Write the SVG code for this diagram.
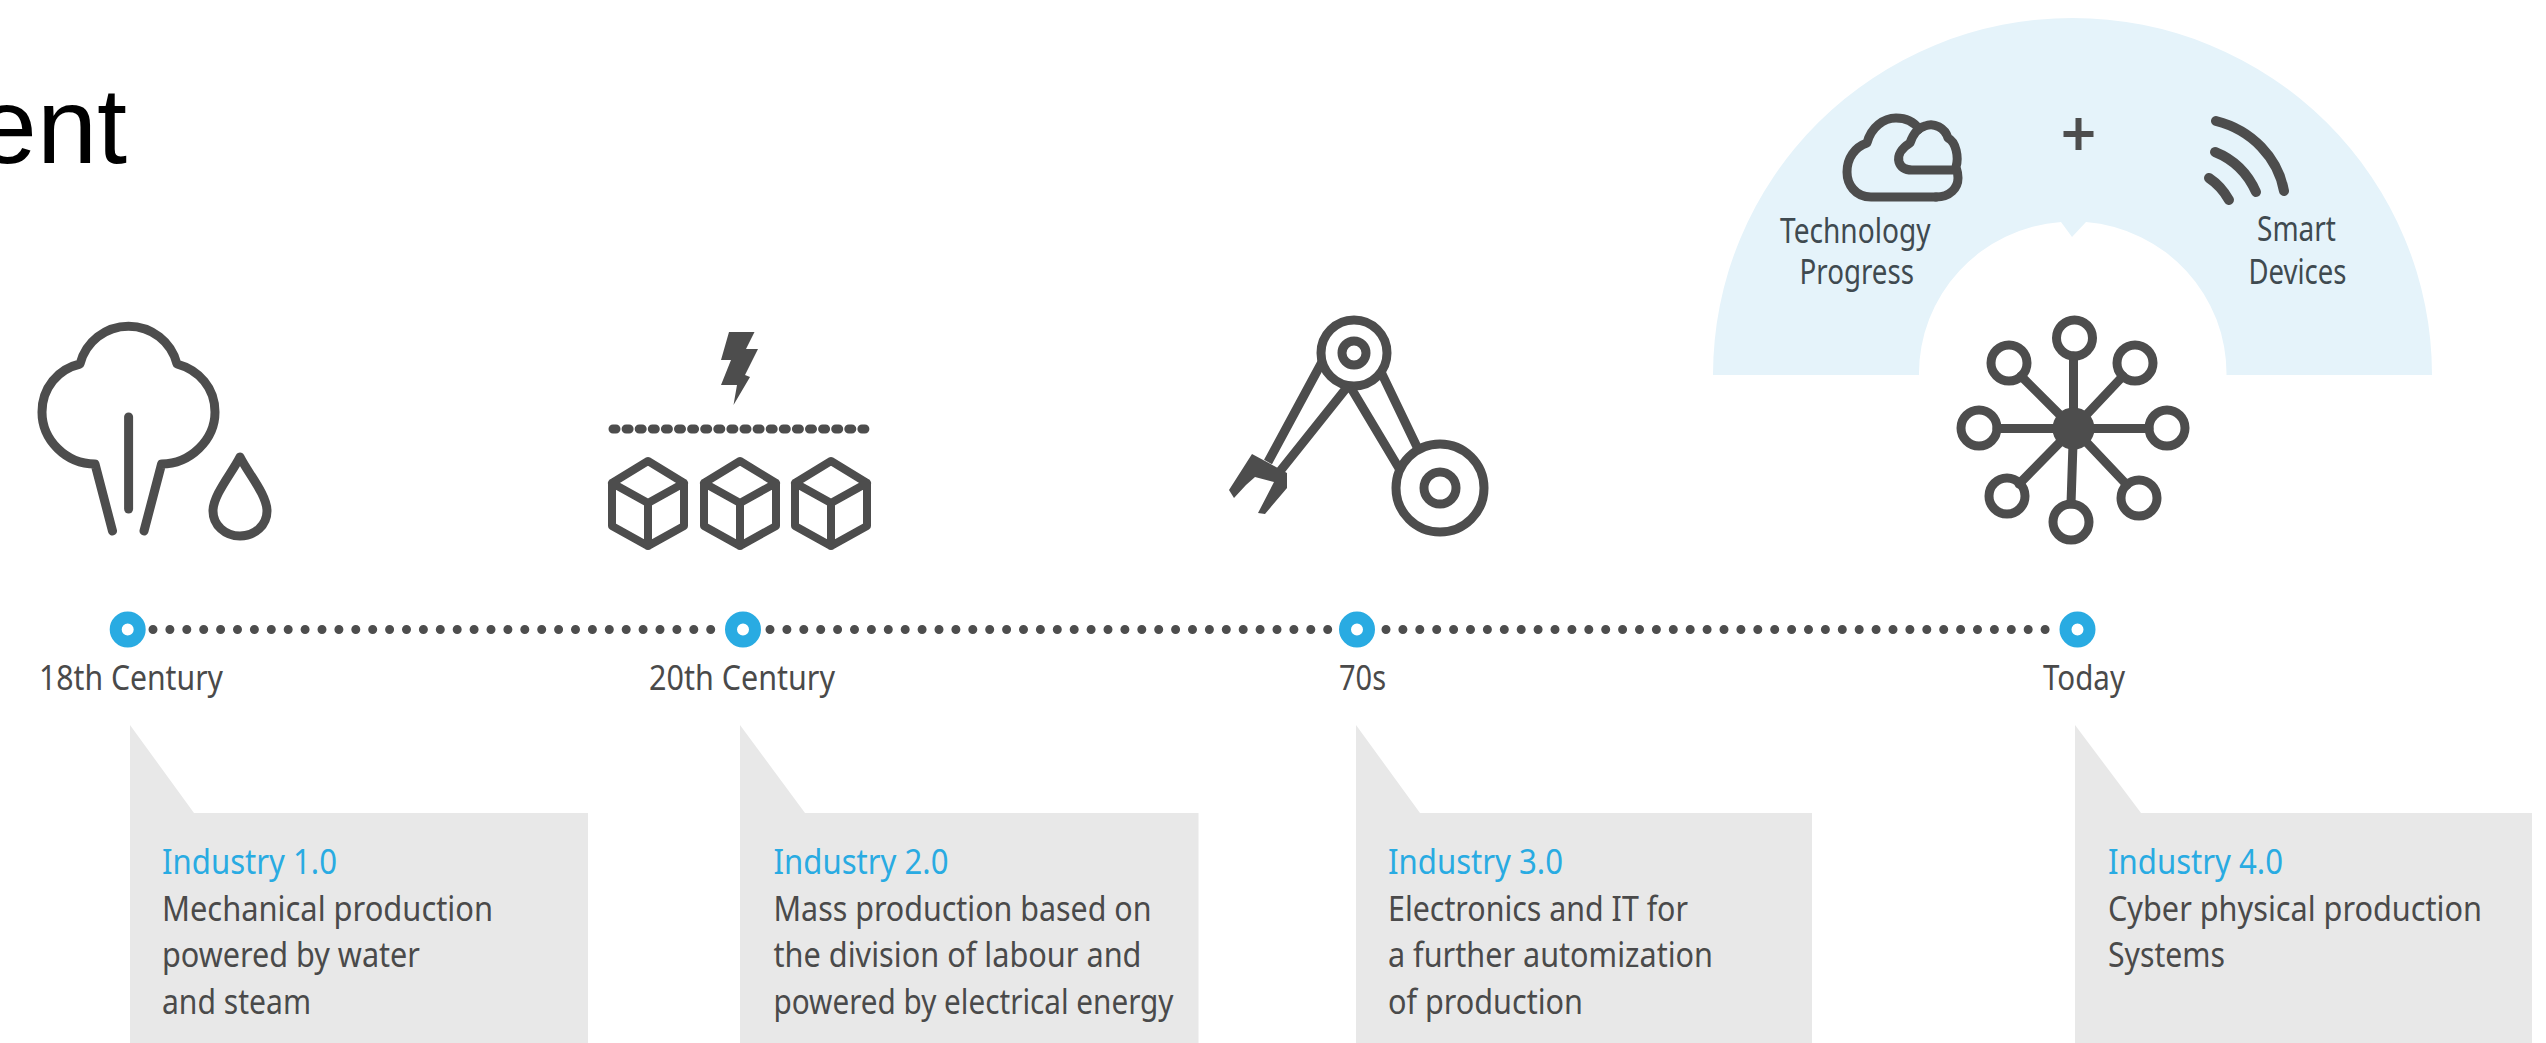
<svg xmlns="http://www.w3.org/2000/svg" width="2546" height="1043" viewBox="0 0 2546 1043">
<style>
text{font-family:"Noto Sans","Open Sans","Liberation Sans",sans-serif;font-size:34px;fill:#4a4a4a}
.h{fill:#29abe2}
.s{fill:#3f4a50}
.title{font-family:"Liberation Sans",Arial,sans-serif;font-size:108px;fill:#000}
.box{fill:#e8e8e8}
.ic{fill:none;stroke:#4d4d4d;stroke-width:9;stroke-linecap:round;stroke-linejoin:round}
.f{fill:#4d4d4d;stroke:none}
.dot{fill:none;stroke:#4d4d4d;stroke-width:9;stroke-linecap:round;stroke-dasharray:0 16.900}
.ring{fill:#fff;stroke:#29abe2;stroke-width:12}
</style>
<rect width="2546" height="1043" fill="#fff"/>
<text class="title" x="127" y="163" text-anchor="end">ent</text>

<path id="arch" fill="#e5f3fa" d="M1713,375A359.500,357 0 0 1 2432,375H2226.500A153.500,152 0 0 0 2086,222L2072,237L2061,222A153.500,152 0 0 0 1919,375Z"/>

<g id="connectors">
<path class="dot" d="M153,629.500H716"/>
<path class="dot" d="M770,629.500H1333"/>
<path class="dot" d="M1386,629.500H2052"/>
</g>

<g id="era-1">
<g class="ic">
<path d="M112.500,531L95,464C66,464 42,440 42,412C42,388 58,369 80,364A50,50 0 0 1 177,364C199,370 215,388 215,412C215,440 190,464 161.600,464L144,531"/>
<path d="M128.600,417V509"/>
<path d="M240,457C232,473 213,495 213,511C213,525 225,536 240,536C255,536 267,525 267,511C267,495 248,473 240,457Z"/>
</g>
<circle class="ring" cx="127.700" cy="629.500" r="12"/>
<text x="39" y="690" textLength="184" lengthAdjust="spacingAndGlyphs">18th Century</text>
<path class="box" d="M130,725L194,813H588V1043H130Z"/>
<text class="h" x="162" y="874" textLength="175" lengthAdjust="spacingAndGlyphs">Industry 1.0</text>
<text x="162" y="921" textLength="331" lengthAdjust="spacingAndGlyphs">Mechanical production</text>
<text x="162" y="967" textLength="258" lengthAdjust="spacingAndGlyphs">powered by water</text>
<text x="162" y="1014" textLength="149" lengthAdjust="spacingAndGlyphs">and steam</text>
</g>

<g id="era-2">
<path class="f" d="M729,332H754.500L746,349H758L745,375L750,377L733.500,405L737,385H721L731,360H721Z"/>
<path d="M613,429H869" fill="none" stroke="#4d4d4d" stroke-width="9" stroke-linecap="round" stroke-dasharray="3 10.100"/>
<g class="ic" style="stroke-width:8">
<path d="M648,461L684,483V526L648,546L612,526V483ZM612,483L648,503L684,483M648,503V546"/>
<path d="M740,461L776,483V526L740,546L704,526V483ZM704,483L740,503L776,483M740,503V546"/>
<path d="M831,461L867,483V526L831,546L795,526V483ZM795,483L831,503L867,483M831,503V546"/>
</g>
<circle class="ring" cx="743" cy="629.500" r="12"/>
<text x="649" y="690" textLength="186" lengthAdjust="spacingAndGlyphs">20th Century</text>
<path class="box" d="M740,725L805,813H1198.500V1043H740Z"/>
<text class="h" x="773.500" y="874" textLength="175" lengthAdjust="spacingAndGlyphs">Industry 2.0</text>
<text x="773.500" y="921" textLength="378" lengthAdjust="spacingAndGlyphs">Mass production based on</text>
<text x="773.500" y="967" textLength="368" lengthAdjust="spacingAndGlyphs">the division of labour and</text>
<text x="773.500" y="1014" textLength="400" lengthAdjust="spacingAndGlyphs">powered by electrical energy</text>
</g>

<g id="era-3">
<g class="ic">
<circle cx="1354" cy="353" r="33"/>
<circle cx="1354" cy="353" r="12"/>
<circle cx="1440" cy="488" r="44"/>
<circle cx="1440" cy="488" r="16"/>
<path d="M1381,372L1418,449M1351,388L1400,470M1322,362L1268,462M1348,386L1277,475" stroke-linecap="butt"/>
</g>
<path class="f" stroke-linejoin="round" d="M1252,454L1287,473V488L1265,514L1258,513L1274,482L1255,477L1246,485L1234,498L1229,490Z"/>
<circle class="ring" cx="1357" cy="629.500" r="12"/>
<text x="1339" y="690" textLength="47" lengthAdjust="spacingAndGlyphs">70s</text>
<path class="box" d="M1356,725L1420,813H1812V1043H1356Z"/>
<text class="h" x="1388" y="874" textLength="175" lengthAdjust="spacingAndGlyphs">Industry 3.0</text>
<text x="1388" y="921" textLength="300" lengthAdjust="spacingAndGlyphs">Electronics and IT for</text>
<text x="1388" y="967" textLength="325" lengthAdjust="spacingAndGlyphs">a further automization</text>
<text x="1388" y="1014" textLength="195" lengthAdjust="spacingAndGlyphs">of production</text>
</g>

<g id="era-4">
<g class="ic">
<path d="M2073.500,428.500V356M2073.500,428.500L2123,376M2073.500,428.500H2149M2073.500,428.500L2127,485M2073.500,428.500L2071,504M2073.500,428.500L2019,484M2073.500,428.500H1997M2073.500,428.500L2021,376"/>
<circle cx="2074.500" cy="338" r="18"/>
<circle cx="2135" cy="363" r="18"/>
<circle cx="2167" cy="428" r="18"/>
<circle cx="2139" cy="498" r="18"/>
<circle cx="2071" cy="522" r="18"/>
<circle cx="2007" cy="496" r="18"/>
<circle cx="1979" cy="428" r="18"/>
<circle cx="2009" cy="363" r="18"/>
</g>
<circle class="f" cx="2073.500" cy="428.500" r="21"/>
<circle class="ring" cx="2077.500" cy="629.500" r="12"/>
<text x="2043" y="690" textLength="82" lengthAdjust="spacingAndGlyphs">Today</text>
<path class="box" d="M2075,725L2141,813H2532V1043H2075Z"/>
<text class="h" x="2108" y="874" textLength="175" lengthAdjust="spacingAndGlyphs">Industry 4.0</text>
<text x="2108" y="921" textLength="374" lengthAdjust="spacingAndGlyphs">Cyber physical production</text>
<text x="2108" y="967" textLength="117" lengthAdjust="spacingAndGlyphs">Systems</text>
</g>

<g id="technology-progress">
<g class="ic">
<path d="M1936,197H1871C1855,197 1847,184 1847,172C1847,158 1855,147 1867,143C1871,127 1884,118 1896,118C1906,118 1914,122 1919,129"/>
<path d="M1936,197C1950,197 1958,188 1958,178C1958,174 1957,170 1956,167C1959,157 1956,142 1948,138C1945,128 1934,122 1925,126C1918,128 1913,134 1910,143C1902,148 1897,155 1899,162C1901,168 1906,170 1912,170H1956"/>
</g>
<text class="s" x="1780" y="243" textLength="150.600" lengthAdjust="spacingAndGlyphs">Technology</text>
<text class="s" x="1799.500" y="284" textLength="114.500" lengthAdjust="spacingAndGlyphs">Progress</text>
</g>

<path id="plus" d="M2063.500,134H2093.500M2078.500,118V150" fill="none" stroke="#4d4d4d" stroke-width="6"/>

<g id="smart-devices">
<g class="ic" style="stroke-width:10">
<path d="M2216,121C2252,130 2278,158 2284,191"/>
<path d="M2215,152C2235,160 2248,174 2256,192"/>
<path d="M2209,178C2218,184 2224,191 2229,200"/>
</g>
<text class="s" x="2257" y="241" textLength="79" lengthAdjust="spacingAndGlyphs">Smart</text>
<text class="s" x="2248.500" y="284" textLength="98" lengthAdjust="spacingAndGlyphs">Devices</text>
</g>
</svg>
